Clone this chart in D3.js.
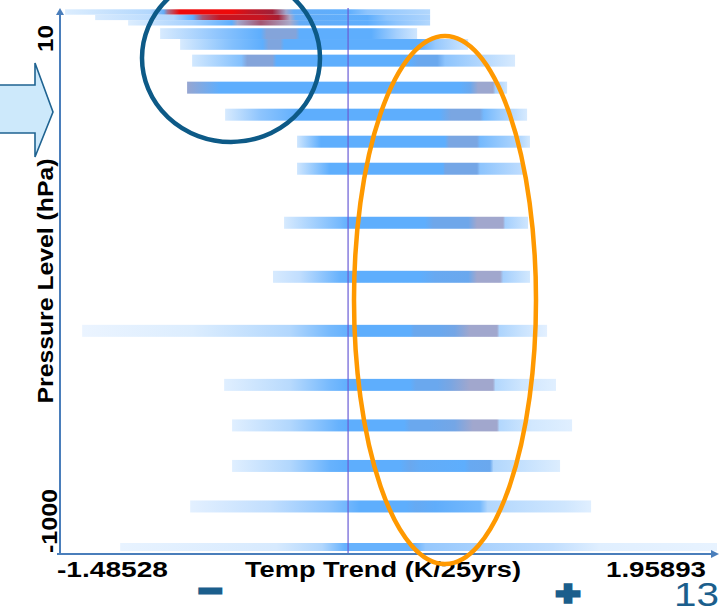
<!DOCTYPE html>
<html><head><meta charset="utf-8">
<script src="https://cdn.jsdelivr.net/npm/d3@7"></script>
<style>html,body{margin:0;padding:0;background:#fff;overflow:hidden}svg{display:block}</style>
</head><body><svg id="c" width="721" height="613"></svg>
<script>
// ---- data ----
const levels = [10, 20, 30, 50, 70, 100, 150, 200, 250, 300, 400, 500, 600, 700, 775, 850, 925, 1000];
// each profile: [temperature trend (K/25yrs), relative density 0..1]
const trendProfiles = [
  [[-1.459,0.12],[-1.02,0.3],[-0.95,0.55],[-0.93,0.84],[-0.87,1.0],[-0.60,1.0],[-0.50,0.94],[-0.39,0.9],[-0.32,0.77],[-0.28,0.55],[0.0,0.5],[0.1,0.4],[0.423,0.3]],
  [[-1.304,0.15],[-0.9,0.3],[-0.8,0.5],[-0.75,0.86],[-0.66,0.95],[-0.45,0.95],[-0.36,0.91],[-0.30,0.8],[-0.27,0.55],[0.1,0.5],[0.2,0.4],[0.423,0.32]],
  [[-1.134,0.12],[-0.8,0.35],[-0.6,0.5],[-0.57,0.78],[-0.45,0.86],[-0.3,0.8],[-0.25,0.55],[0.1,0.5],[0.25,0.4],[0.423,0.3]],
  [[-0.969,0.15],[-0.66,0.4],[-0.45,0.5],[-0.42,0.72],[-0.27,0.72],[-0.25,0.5],[0.12,0.5],[0.25,0.35],[0.356,0.2]],
  [[-0.866,0.15],[-0.6,0.42],[-0.44,0.5],[-0.41,0.7],[-0.35,0.7],[-0.33,0.5],[0.37,0.5],[0.45,0.38],[0.619,0.2]],
  [[-0.804,0.18],[-0.55,0.42],[-0.52,0.72],[-0.39,0.72],[-0.37,0.5],[0.32,0.5],[0.36,0.62],[0.46,0.62],[0.5,0.4],[0.861,0.15]],
  [[-0.83,0.76],[-0.66,0.5],[0.577,0.5],[0.63,0.62],[0.67,0.77],[0.747,0.77],[0.76,0.35],[0.82,0.2]],
  [[-0.634,0.15],[-0.45,0.4],[-0.25,0.5],[0.47,0.5],[0.53,0.68],[0.68,0.68],[0.70,0.45],[0.835,0.3],[0.923,0.15]],
  [[-0.263,0.2],[-0.14,0.5],[0.5,0.5],[0.52,0.68],[0.665,0.68],[0.68,0.45],[0.887,0.3],[0.938,0.18]],
  [[-0.263,0.2],[-0.093,0.5],[0.49,0.5],[0.5,0.66],[0.665,0.66],[0.68,0.4],[0.912,0.25]],
  [[-0.33,0.15],[-0.04,0.45],[0.01,0.5],[0.397,0.5],[0.44,0.64],[0.62,0.64],[0.665,0.78],[0.799,0.78],[0.81,0.35],[0.928,0.2]],
  [[-0.387,0.15],[-0.25,0.25],[-0.04,0.48],[0.036,0.5],[0.371,0.5],[0.45,0.6],[0.62,0.62],[0.665,0.78],[0.784,0.78],[0.80,0.35],[0.938,0.18]],
  [[-1.371,0.03],[-0.8,0.12],[-0.3,0.3],[-0.09,0.45],[0.036,0.5],[0.32,0.5],[0.34,0.62],[0.47,0.62],[0.55,0.66],[0.629,0.78],[0.768,0.78],[0.78,0.32],[0.9,0.22],[1.026,0.08]],
  [[-0.639,0.1],[-0.3,0.28],[-0.09,0.45],[0.01,0.5],[0.32,0.5],[0.35,0.62],[0.46,0.62],[0.53,0.68],[0.629,0.78],[0.747,0.78],[0.76,0.3],[0.9,0.2],[1.072,0.1]],
  [[-0.598,0.1],[-0.3,0.3],[-0.05,0.48],[0.01,0.5],[0.29,0.5],[0.32,0.62],[0.42,0.62],[0.55,0.66],[0.644,0.78],[0.768,0.78],[0.78,0.3],[0.95,0.18],[1.155,0.1]],
  [[-0.598,0.1],[-0.3,0.3],[-0.09,0.48],[-0.015,0.5],[0.268,0.5],[0.32,0.62],[0.37,0.55],[0.6,0.5],[0.629,0.6],[0.732,0.62],[0.75,0.3],[1.093,0.12]],
  [[-0.814,0.08],[-0.4,0.25],[-0.1,0.4],[0.062,0.5],[0.3,0.5],[0.35,0.58],[0.45,0.52],[0.68,0.45],[0.72,0.3],[1.119,0.2],[1.253,0.1]],
  [[-1.175,0.05],[-0.37,0.15],[-0.134,0.3],[-0.015,0.48],[0.34,0.48],[0.4,0.38],[1.052,0.25],[1.3,0.1],[1.95,0.05]]
];
const xDomain = [-1.48528, 1.95893];
const yDomain = [10, 1000];
const xTickLabels = ["-1.48528", "1.95893"];
const yTickLabels = ["10", "-1000"];
const xTitle = "Temp Trend (K/25yrs)";
const yTitle = "Pressure Level (hPa)";
const densityStops = [0, 0.2, 0.35, 0.5, 0.62, 0.72, 0.8, 0.9, 1];
const densityColors = ["#f0f7ff", "#cfe6fe", "#a4cffd", "#5eaefd", "#6aa8ee", "#84a4da", "#aaa8c8", "#a02038", "#ee0a0a"];

// ---- drawing ----
const svg = d3.select("#c");
const FONT = "'Liberation Sans', Arial, sans-serif";
const axisX0 = 60, axisY = 554, axisXEnd = 717, axisTop = 8;
const x = d3.scaleLinear().domain(xDomain).range([60, 728]);
const y = d3.scaleLinear().domain(yDomain).range([12, 547]);
const color = d3.scaleLinear().domain(densityStops).range(densityColors)
  .interpolate(d3.interpolateRgb).clamp(true);

const defs = svg.append("defs");
defs.append("clipPath").attr("id", "plotClip").append("rect")
  .attr("x", axisX0 + 1).attr("y", 0).attr("width", axisXEnd - axisX0 - 1).attr("height", axisY - 1);

levels.forEach((p, i) => {
  const prof = trendProfiles[i];
  const x0 = x(prof[0][0]), x1 = x(prof[prof.length - 1][0]);
  const g = defs.append("linearGradient").attr("id", "g" + i)
    .attr("x1", 0).attr("x2", 1).attr("y1", 0).attr("y2", 0);
  prof.forEach(([v, d]) => {
    g.append("stop").attr("offset", ((x(v) - x0) / (x1 - x0)).toFixed(4))
      .attr("stop-color", color(d));
  });
});

const plot = svg.append("g").attr("clip-path", "url(#plotClip)");
plot.selectAll("rect.bar").data(levels).join("rect")
  .attr("class", "bar")
  .each(function (p, i) {
    const prof = trendProfiles[i];
    const yc = y(p);
    const gap = i === 0 ? y(levels[1]) - y(levels[0]) : y(levels[i]) - y(levels[i - 1]);
    const h = Math.min(12, gap, 2 * (axisY - 3 - yc));
    d3.select(this)
      .attr("x", x(prof[0][0]))
      .attr("width", x(prof[prof.length - 1][0]) - x(prof[0][0]))
      .attr("y", yc - h / 2)
      .attr("height", h)
      .attr("fill", "url(#g" + i + ")");
  });

// zero line
svg.append("line").attr("x1", x(0)).attr("x2", x(0)).attr("y1", axisTop).attr("y2", axisY - 1)
  .attr("stroke", "#6a5cd6").attr("stroke-width", 1.2);

// axes
const axisColor = "#4a7ebb";
svg.append("line").attr("x1", axisX0).attr("x2", axisX0).attr("y1", axisTop + 4).attr("y2", axisY + 1)
  .attr("stroke", axisColor).attr("stroke-width", 2);
svg.append("line").attr("x1", axisX0 - 1).attr("x2", axisXEnd - 3).attr("y1", axisY).attr("y2", axisY)
  .attr("stroke", axisColor).attr("stroke-width", 2);
svg.append("path").attr("d", `M${axisX0 - 4},${axisTop + 7} L${axisX0},${axisTop} L${axisX0 + 4},${axisTop + 7} Z`)
  .attr("fill", axisColor);
svg.append("path").attr("d", `M${axisXEnd - 6},${axisY - 4} L${axisXEnd + 2},${axisY} L${axisXEnd - 6},${axisY + 4} Z`)
  .attr("fill", axisColor);
svg.append("line").attr("x1", axisX0 - 3).attr("x2", axisX0 + 0).attr("y1", axisY).attr("y2", axisY)
  .attr("stroke", axisColor).attr("stroke-width", 2);

// axis labels
const lab = (t, xx, yy, len, opts = {}) => {
  const e = svg.append("text").text(t).attr("x", xx).attr("y", yy)
    .attr("font-family", FONT).attr("font-weight", "bold").attr("font-size", opts.size || 22)
    .attr("fill", "#000").attr("textLength", len).attr("lengthAdjust", "spacingAndGlyphs");
  if (opts.anchor) e.attr("text-anchor", opts.anchor);
  if (opts.rotate) e.attr("transform", `rotate(-90 ${xx} ${yy})`);
  return e;
};
lab(xTickLabels[0], 57, 577, 111);
lab(xTitle, 245, 577, 276);
lab(xTickLabels[1], 606, 577, 100);
lab(yTickLabels[0], 53, 38.5, 27, { anchor: "middle", rotate: true });
lab(yTickLabels[1], 57, 521, 64, { anchor: "middle", rotate: true });
lab(yTitle, 53, 281, 245, { anchor: "middle", rotate: true });

// block arrow on the left
svg.append("path")
  .attr("d", "M-4,85 L35,85 L35,63 L53,112 L35,157 L35,133 L-4,133 Z")
  .attr("fill", "#cde9fb").attr("stroke", "#1f6391").attr("stroke-width", 1.6);

// annotation ellipses
svg.append("ellipse").attr("cx", 231).attr("cy", 58).attr("rx", 89).attr("ry", 84)
  .attr("fill", "none").attr("stroke", "#0d5a87").attr("stroke-width", 4.5);
svg.append("ellipse").attr("cx", 445).attr("cy", 300).attr("rx", 91).attr("ry", 264)
  .attr("fill", "none").attr("stroke", "#ff9900").attr("stroke-width", 4.5);

// minus / plus and page number
const signColor = "#1b5e8c";
svg.append("text").text("\u2212").attr("x", 210).attr("y", 603).attr("text-anchor", "middle")
  .attr("font-family", FONT).attr("font-weight", "bold").attr("font-size", 36)
  .attr("fill", signColor).attr("stroke", signColor).attr("stroke-width", 3)
  .attr("textLength", 24).attr("lengthAdjust", "spacingAndGlyphs");
svg.append("text").text("+").attr("x", 568).attr("y", 605).attr("text-anchor", "middle")
  .attr("font-family", FONT).attr("font-weight", "bold").attr("font-size", 34)
  .attr("fill", signColor).attr("stroke", signColor).attr("stroke-width", 3.5)
  .attr("textLength", 24).attr("lengthAdjust", "spacingAndGlyphs");
svg.append("text").text("13").attr("x", 674).attr("y", 606)
  .attr("font-family", FONT).attr("font-size", 33).attr("fill", signColor)
  .attr("textLength", 45).attr("lengthAdjust", "spacingAndGlyphs");
</script></body></html>
